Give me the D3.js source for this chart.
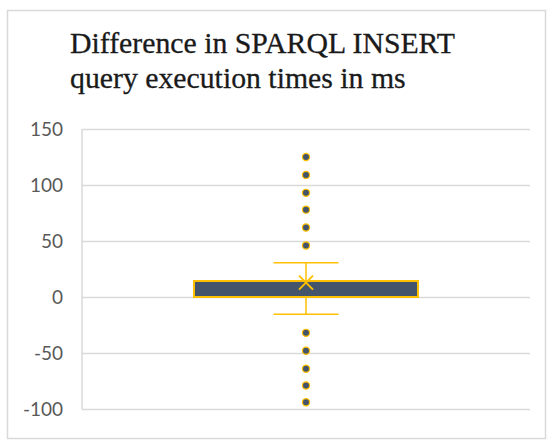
<!DOCTYPE html>
<html><head><meta charset="utf-8">
<script src="https://cdn.jsdelivr.net/npm/d3@7"></script>
<style>body{margin:0;background:#fff}</style>
</head><body>
<script>
const titleLines = ["Difference in SPARQL INSERT", "query execution times in ms"];
const categories = ["INSERT"];
const yTicks = [-100, -50, 0, 50, 100, 150];
const q1 = [0];
const median = [0];
const q3 = [14.3];
const whiskerLow = [-15.5];
const whiskerHigh = [30.6];
const means = [12.8];
const outliers = [125, 109, 93, 78, 62, 46, -32, -48, -64, -79, -94];

const W = 550, H = 448;
const svg = d3.select("body").append("svg").attr("width", W).attr("height", H);

svg.append("rect").attr("x", 7.5).attr("y", 10.5).attr("width", 538).attr("height", 428)
  .attr("fill", "#fff").attr("stroke", "#d9d9d9").attr("stroke-width", 1.5);

const title = svg.append("g");
titleLines.forEach((t, i) => {
  title.append("text").attr("x", 70).attr("y", 53 + i * 35)
    .attr("font-family", "'Liberation Serif', 'DejaVu Serif', serif")
    .attr("font-size", 31).attr("fill", "#1a1a1a")
    .attr("stroke", "#1a1a1a").attr("stroke-width", 0.3).text(t);
});
const first = title.select("text").node();
const w = first.getComputedTextLength();
if (w > 0) title.selectAll("text").attr("font-size", 31 * 385 / w);

const plot = {left: 82, right: 530, top: 129, bottom: 409};
const y = d3.scaleLinear().domain([-100, 150]).range([plot.bottom, plot.top]);
const x = d3.scaleBand().domain(categories).range([plot.left, plot.right]).paddingInner(0).paddingOuter(0.5);

const gridAxis = d3.axisLeft(y).tickValues(yTicks).tickSize(-(plot.right - plot.left)).tickFormat("");
const grid = svg.append("g").attr("transform", `translate(${plot.left},0)`).call(gridAxis);
grid.select(".domain").remove();
grid.selectAll("line").attr("stroke", "#d9d9d9").attr("stroke-width", 1.5);

svg.append("line").attr("x1", plot.left).attr("x2", plot.left).attr("y1", plot.top).attr("y2", plot.bottom)
  .attr("stroke", "#d9d9d9").attr("stroke-width", 1.5);

const axis = d3.axisLeft(y).tickValues(yTicks).tickSize(0).tickPadding(19).tickFormat(d => String(d));
const ag = svg.append("g").attr("transform", `translate(${plot.left},0)`).call(axis);
ag.select(".domain").remove();
ag.selectAll("text").attr("font-family", "Lato, 'Open Sans', sans-serif").attr("font-size", 19).attr("fill", "#595959");

const yellow = "#ffc000", dark = "#44546a";
categories.forEach((c, i) => {
  const bx = x(c), bw = x.bandwidth(), cx = bx + bw / 2;
  const capW = 65;
  const g = svg.append("g");
  g.append("line").attr("x1", cx).attr("x2", cx).attr("y1", y(whiskerHigh[i])).attr("y2", y(q3[i])).attr("stroke", yellow).attr("stroke-width", 1.5);
  g.append("line").attr("x1", cx).attr("x2", cx).attr("y1", y(q1[i])).attr("y2", y(whiskerLow[i])).attr("stroke", yellow).attr("stroke-width", 1.5);
  g.append("line").attr("x1", cx - capW / 2).attr("x2", cx + capW / 2).attr("y1", y(whiskerHigh[i])).attr("y2", y(whiskerHigh[i])).attr("stroke", yellow).attr("stroke-width", 1.5);
  g.append("line").attr("x1", cx - capW / 2).attr("x2", cx + capW / 2).attr("y1", y(whiskerLow[i])).attr("y2", y(whiskerLow[i])).attr("stroke", yellow).attr("stroke-width", 1.5);
  g.append("rect").attr("x", bx).attr("width", bw).attr("y", y(q3[i])).attr("height", y(q1[i]) - y(q3[i]))
    .attr("fill", dark).attr("stroke", yellow).attr("stroke-width", 2);
  g.append("line").attr("x1", bx).attr("x2", bx + bw).attr("y1", y(median[i])).attr("y2", y(median[i])).attr("stroke", yellow).attr("stroke-width", 1.5);
  const my = y(means[i]), s = 7;
  g.append("path").attr("d", `M${cx - s},${my - s}L${cx + s},${my + s}M${cx - s},${my + s}L${cx + s},${my - s}`)
    .attr("stroke", yellow).attr("stroke-width", 2);
  g.selectAll("circle").data(outliers).join("circle")
    .attr("cx", cx).attr("cy", d => y(d)).attr("r", 3.6)
    .attr("fill", dark).attr("stroke", yellow).attr("stroke-width", 1.2);
});
</script>
</body></html>
